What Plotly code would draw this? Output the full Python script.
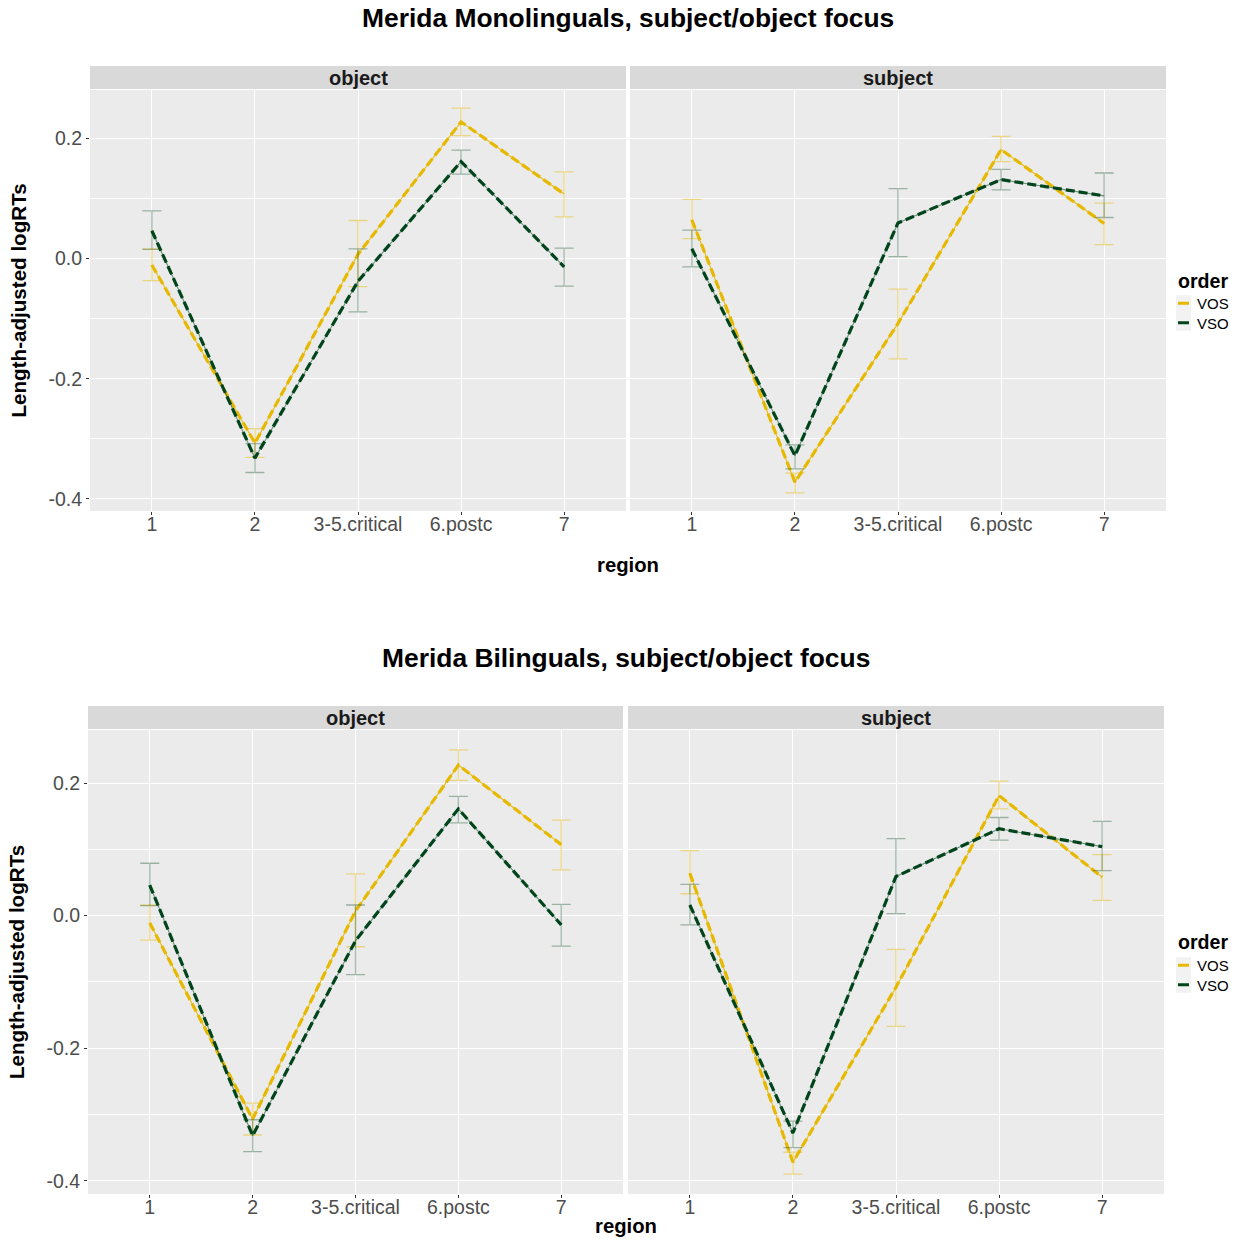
import plotly.graph_objects as go

W, H = 1244, 1241

regions = ["1", "2", "3-5.critical", "6.postc", "7"]
facets = ["object", "subject"]
orders = ["VOS", "VSO"]
ytick_vals = [-0.4, -0.2, 0.0, 0.2]
ytick_text = ["-0.4", "-0.2", "0.0", "0.2"]

# object facet
obj_vos_mean = [-0.011, -0.307, 0.007, 0.227, 0.107]
obj_vos_hi   = [0.016, -0.283, 0.063, 0.250, 0.144]
obj_vos_lo   = [-0.037, -0.331, -0.047, 0.204, 0.069]
obj_vso_mean = [0.046, -0.332, -0.038, 0.161, -0.014]
obj_vso_hi   = [0.079, -0.308, 0.016, 0.180, 0.017]
obj_vso_lo   = [0.015, -0.356, -0.089, 0.140, -0.046]
# subject facet
sub_vos_mean = [0.064, -0.372, -0.108, 0.181, 0.058]
sub_vos_hi   = [0.098, -0.357, -0.051, 0.203, 0.092]
sub_vos_lo   = [0.033, -0.390, -0.167, 0.161, 0.023]
sub_vso_mean = [0.016, -0.328, 0.059, 0.131, 0.104]
sub_vso_hi   = [0.047, -0.310, 0.116, 0.148, 0.142]
sub_vso_lo   = [-0.014, -0.350, 0.003, 0.114, 0.068]

data = {
    ("object", "VOS"): (obj_vos_mean, obj_vos_hi, obj_vos_lo),
    ("object", "VSO"): (obj_vso_mean, obj_vso_hi, obj_vso_lo),
    ("subject", "VOS"): (sub_vos_mean, sub_vos_hi, sub_vos_lo),
    ("subject", "VSO"): (sub_vso_mean, sub_vso_hi, sub_vso_lo),
}

titles = ["Merida Monolinguals, subject/object focus",
          "Merida Bilinguals, subject/object focus"]

col = {"VOS": "#E6B800", "VSO": "#00441B"}
col_err = {"VOS": "rgba(230,184,0,0.45)", "VSO": "rgba(0,68,27,0.35)"}
col_thin = {"VOS": "rgba(230,184,0,0.9)", "VSO": "rgba(0,68,27,0.55)"}

FONT = "Liberation Sans, Arial, sans-serif"
LEG_FONT = 15
LEG_STEP = LEG_FONT * 1.3

blocks = [
    dict(px=[(90, 626), (630, 1166)], top=90, bot=511, title_y=18, xlab_y=565, ylab_x=18,
         leg_title_y=281, leg_center_y=313),
    dict(px=[(88, 623), (628, 1164)], top=730, bot=1194, title_y=658, xlab_y=1226, ylab_x=16,
         leg_title_y=942, leg_center_y=975),
]

def px2x(p):
    return p / W

def py2y(p):
    return 1 - p / H

fig = go.Figure()
layout = {}
shapes = []
annotations = []

ax_i = 0
for b_i, blk in enumerate(blocks):
    for f_i, facet in enumerate(facets):
        ax_i += 1
        xa = "x" if ax_i == 1 else f"x{ax_i}"
        ya = "y" if ax_i == 1 else f"y{ax_i}"
        xkey = "xaxis" if ax_i == 1 else f"xaxis{ax_i}"
        ykey = "yaxis" if ax_i == 1 else f"yaxis{ax_i}"
        x0, x1 = blk["px"][f_i]
        layout[xkey] = dict(
            domain=[px2x(x0), px2x(x1)], anchor=ya, type="category",
            range=[-0.6, 4.6], showgrid=True, gridcolor="white", gridwidth=1.2,
            ticks="outside", ticklen=3, tickcolor="#333333", ticklabelstandoff=-7,
            tickfont=dict(family=FONT, size=19.5, color="#4D4D4D"),
            showline=False, zeroline=False, fixedrange=True,
        )
        layout[ykey] = dict(
            domain=[py2y(blk["bot"]), py2y(blk["top"])], anchor=xa,
            range=[-0.42, 0.28], tickvals=ytick_vals,
            ticktext=ytick_text if f_i == 0 else None,
            showticklabels=(f_i == 0),
            showgrid=True, gridcolor="white", gridwidth=1.2,
            minor=dict(tick0=0.1, dtick=0.2, showgrid=True, gridcolor="white", gridwidth=0.5),
            ticks="outside" if f_i == 0 else "", ticklen=3, tickcolor="#333333",
            tickfont=dict(family=FONT, size=19.5, color="#4D4D4D"),
            zeroline=False, showline=False, fixedrange=True,
        )
        shapes.append(dict(type="rect", xref="paper", yref="paper", layer="below",
                           x0=px2x(x0), x1=px2x(x1), y0=py2y(blk["bot"]), y1=py2y(blk["top"]),
                           fillcolor="#EBEBEB", line=dict(width=0)))
        shapes.append(dict(type="rect", xref="paper", yref="paper", layer="below",
                           x0=px2x(x0), x1=px2x(x1), y0=py2y(blk["top"] - 1), y1=py2y(blk["top"] - 24),
                           fillcolor="#D9D9D9", line=dict(width=0)))
        annotations.append(dict(text=f"<b>{facet}</b>", xref="paper", yref="paper",
                                x=px2x((x0 + x1) / 2), y=py2y(blk["top"] - 12.5),
                                showarrow=False, xanchor="center", yanchor="middle",
                                font=dict(family=FONT, size=20, color="#1A1A1A")))
        for o in orders:
            mean, hi, lo = data[(facet, o)]
            err_up = [h - m for h, m in zip(hi, mean)]
            err_dn = [m - l for m, l in zip(mean, lo)]
            fig.add_trace(go.Scatter(
                x=regions, y=mean, mode="markers", xaxis=xa, yaxis=ya,
                marker=dict(size=1, color="rgba(0,0,0,0)"),
                error_y=dict(type="data", symmetric=False, array=err_up, arrayminus=err_dn,
                             color=col_err[o], thickness=1.3, width=9.5),
                showlegend=False, hoverinfo="skip"))
            fig.add_trace(go.Scatter(
                x=regions, y=mean, mode="lines", xaxis=xa, yaxis=ya,
                line=dict(color=col_thin[o], width=1.1),
                showlegend=False, hoverinfo="skip"))
            fig.add_trace(go.Scatter(
                x=regions, y=mean, mode="lines", xaxis=xa, yaxis=ya, name=o,
                line=dict(color=col[o], width=3.2, dash="9px,4px"),
                showlegend=False))
    cx = (blk["px"][0][0] + blk["px"][1][1]) / 2
    annotations.append(dict(text=f"<b>{titles[b_i]}</b>", xref="paper", yref="paper",
                            x=px2x(cx), y=py2y(blk["title_y"]), showarrow=False,
                            xanchor="center", yanchor="middle",
                            font=dict(family=FONT, size=26.4, color="black")))
    annotations.append(dict(text="<b>region</b>", xref="paper", yref="paper",
                            x=px2x(cx), y=py2y(blk["xlab_y"]), showarrow=False,
                            xanchor="center", yanchor="middle",
                            font=dict(family=FONT, size=20.3, color="black")))
    annotations.append(dict(text="<b>Length-adjusted logRTs</b>", xref="paper", yref="paper",
                            x=px2x(blk["ylab_x"]), y=py2y((blk["top"] + blk["bot"]) / 2),
                            showarrow=False, textangle=-90,
                            xanchor="center", yanchor="middle",
                            font=dict(family=FONT, size=20.6, color="black")))
    # legend (drawn as in ggplot: title, grey key boxes, short line keys, labels)
    annotations.append(dict(text="<b>order</b>", xref="paper", yref="paper",
                            x=px2x(1176), y=py2y(blk["leg_title_y"]), showarrow=False,
                            xanchor="left", yanchor="middle",
                            font=dict(family=FONT, size=19.6, color="black")))
    cy = blk["leg_center_y"]
    ys = [cy - LEG_STEP / 2, cy + LEG_STEP / 2]
    shapes.append(dict(type="rect", xref="paper", yref="paper", layer="below",
                       x0=px2x(1176), x1=px2x(1191), y0=py2y(ys[-1] + 8), y1=py2y(ys[0] - 8),
                       fillcolor="#F2F2F2", line=dict(width=0)))
    for o, yy in zip(orders, ys):
        shapes.append(dict(type="line", xref="paper", yref="paper",
                           x0=px2x(1178), x1=px2x(1189), y0=py2y(yy), y1=py2y(yy),
                           line=dict(color=col[o], width=3)))
    annotations.append(dict(text="<br>".join(orders), xref="paper", yref="paper",
                            x=px2x(1196), y=py2y(cy), showarrow=False, align="left",
                            xanchor="left", yanchor="middle", borderpad=0,
                            font=dict(family=FONT, size=LEG_FONT, color="black")))

fig.update_layout(**layout)
fig.update_layout(
    width=W, height=H, margin=dict(l=0, r=0, t=0, b=0),
    paper_bgcolor="white", plot_bgcolor="rgba(0,0,0,0)",
    shapes=shapes, annotations=annotations, showlegend=False,
    font=dict(family=FONT),
)
fig.write_html("out.html", config={"displayModeBar": False},
               post_script="document.body.style.margin='0';document.body.style.overflow='hidden';")
